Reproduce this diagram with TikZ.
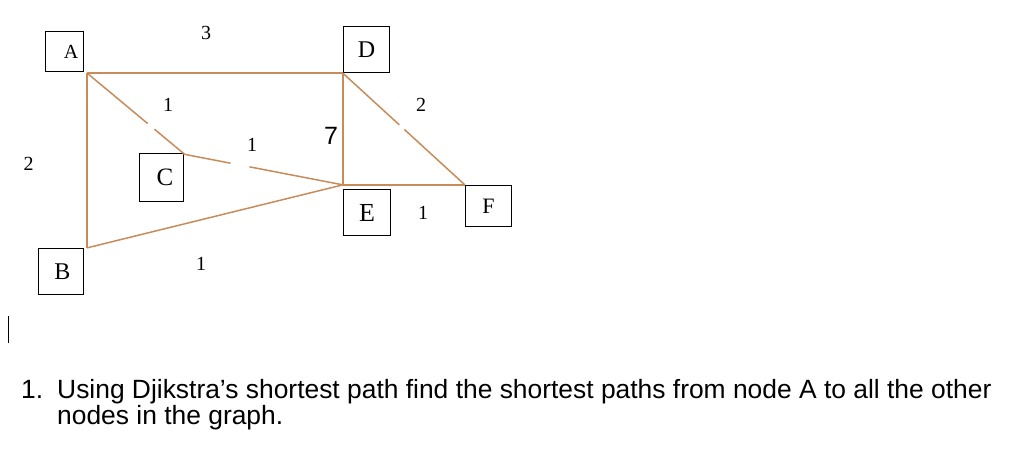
\documentclass[tikz,border=0pt]{standalone}
\usepackage{fontspec}
\setmainfont{Liberation Serif}
\newfontfamily\arialf{Liberation Sans}
\usetikzlibrary{calc}
\definecolor{edgebrown}{RGB}{200,140,90}
\begin{document}
\begin{tikzpicture}[x=1pt,y=-1pt,
  vbox/.style={draw=black,line width=1.3pt,inner sep=0pt},
  elab/.style={inner sep=0pt,font=\fontsize{20}{20}\selectfont},
  gedge/.style={draw=edgebrown,line width=1.5pt},
  qtext/.style={anchor=base west,inner sep=0pt,font=\arialf\fontsize{26.4}{30}\selectfont}]
\useasboundingbox[fill=white] (0,0) rectangle (1024,452);
% nodes
\node[vbox,minimum width=38pt,minimum height=40pt,font=\fontsize{20}{20}\selectfont] (A) at (64.5,51.5) {\hspace{13pt}A};
\node[vbox,minimum width=46pt,minimum height=46pt,font=\fontsize{24}{24}\selectfont] (D) at (366.5,49.5) {D};
\node[vbox,minimum width=44pt,minimum height=48pt,font=\fontsize{25}{25}\selectfont] (C) at (161.5,177.5) {\hspace{7pt}C};
\node[vbox,minimum width=47pt,minimum height=46pt,font=\fontsize{26}{26}\selectfont] (E) at (367,212.5) {E};
\node[vbox,minimum width=46pt,minimum height=41pt,font=\fontsize{22}{22}\selectfont] (F) at (488.5,206) {F};
\node[vbox,minimum width=45pt,minimum height=46pt,font=\fontsize{24}{24}\selectfont] (B) at (61,271.5) {\hspace{3pt}B};
% connector ends
\coordinate (pA) at ([xshift=3pt,yshift=-1pt]A.south east);
\coordinate (pD) at (D.south west);
\coordinate (pE) at ([yshift=4pt]E.north west);
\coordinate (pF) at (F.north west);
\coordinate (pB) at ([xshift=3pt]B.north east);
\coordinate (pC) at ([xshift=0.5pt,yshift=-1.5pt]C.north east);
% edges
\draw[gedge] (pA) -- (pD);
\draw[gedge] (pA) -- (pB);
\draw[gedge] (pA) -- ($(pA)!0.62!(pC)$);
\draw[gedge] ($(pA)!0.69!(pC)$) -- (pC);
\draw[gedge] (pC) -- ($(pC)!0.29!(pE)$);
\draw[gedge] ($(pC)!0.41!(pE)$) -- (pE);
\draw[gedge] (pD) -- (pE);
\draw[gedge] (pD) -- ($(pD)!0.463!(pF)$);
\draw[gedge] ($(pD)!0.504!(pF)$) -- (pF);
\draw[gedge] (pE) -- (pF);
\draw[gedge] (pB) -- (pE);
% weights
\node[elab] (w1) at (206,33) {3};
\node[elab] (w2) at (168,104.5) {1};
\node[elab] (w3) at (421,105) {2};
\node[elab] (w4) at (252,145) {1};
\node[inner sep=0pt,font=\arialf\fontsize{25}{25}\selectfont] (w5) at (331,136) {7};
\node[elab] (w6) at (28.7,163.5) {2};
\node[elab] (w7) at (423,213) {1};
\node[elab] (w8) at (201,263.5) {1};
% cursor
\draw[black,line width=1pt] (8.5,316) -- (8.5,343);
% question text
\node[qtext] (num) at (21,398) {1.};
\node[qtext] (q1) at (57,398) {Using Djikstra’s shortest path find the shortest paths from node A to all the other};
\node[qtext] (q2) at (57,424) {nodes in the graph.};
\end{tikzpicture}
\end{document}
